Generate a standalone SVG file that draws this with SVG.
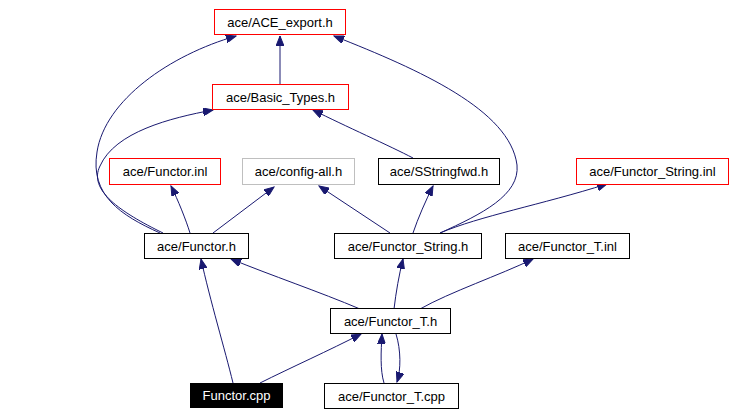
<svg xmlns="http://www.w3.org/2000/svg" width="735" height="415" viewBox="0 0 735 415">
<defs>
<marker id="ah" markerWidth="11" markerHeight="8" refX="10" refY="4" orient="auto" markerUnits="userSpaceOnUse">
<path d="M0,0 L10,4 L0,8 z" fill="#191970" stroke="#191970" stroke-width="1"/>
</marker>
<style>
.e{fill:none;stroke:#191970;stroke-width:1;marker-end:url(#ah)}
.n rect{fill:#fff;stroke:#000;stroke-width:1}
.r rect{stroke:#ff0000}
.g rect{stroke:#bfbfbf}
.n text{font-family:"Liberation Sans",Arial,sans-serif;font-size:13px;text-anchor:middle;fill:#000}
.b rect{fill:#000}
.b text{fill:#fff}
</style>
</defs>
<rect width="735" height="415" fill="#fff"/>
<g id="edges">
<path class="e" d="M280,84 L280,36"/>
<path class="e" d="M160,233 C120,215 90,195 97,152 C105,100 170,55 236,36"/>
<path class="e" d="M163,233 C120,212 88,190 100,166 C115,132 170,118 213,110"/>
<path class="e" d="M190,233 C186,220 178,200 171,186"/>
<path class="e" d="M213,233 L274,187"/>
<path class="e" d="M390,233 L319,186"/>
<path class="e" d="M413,233 C418,218 426,200 433,186"/>
<path class="e" d="M440,233 C482,214 520,195 517,165 C510,110 420,70 334,36"/>
<path class="e" d="M440,233 C480,216 540,205 607,184"/>
<path class="e" d="M413,158 C390,146 345,126 313,110"/>
<path class="e" d="M360,309 C320,292 270,275 231,259"/>
<path class="e" d="M394,309 C396,292 399,275 403,259"/>
<path class="e" d="M420,309 C450,292 500,275 533,259"/>
<path class="e" d="M233,383 C225,350 210,300 201,259"/>
<path class="e" d="M260,383 C290,368 330,350 361,334"/>
<path class="e" d="M384,383 C380,370 381,352 382,334"/>
<path class="e" d="M396,334 C401,350 401,370 397,382"/>
</g>
<g id="n_ace_export" class="n r"><rect x="214.5" y="9.5" width="131" height="25"/><text x="280" y="27">ace/ACE_export.h</text></g>
<g id="n_basic_types" class="n r"><rect x="212.5" y="84.5" width="136" height="25"/><text x="280.5" y="102">ace/Basic_Types.h</text></g>
<g id="n_functor_inl" class="n r"><rect x="109.5" y="158.5" width="111" height="26"/><text x="165" y="176">ace/Functor.inl</text></g>
<g id="n_config_all" class="n g"><rect x="242.5" y="158.5" width="112" height="26"/><text x="298.5" y="176">ace/config-all.h</text></g>
<g id="n_sstringfwd" class="n"><rect x="378.5" y="158.5" width="121" height="26"/><text x="439" y="176">ace/SStringfwd.h</text></g>
<g id="n_functor_string_inl" class="n r"><rect x="576.5" y="158.5" width="152" height="26"/><text x="652.5" y="176">ace/Functor_String.inl</text></g>
<g id="n_functor_h" class="n"><rect x="144.5" y="233.5" width="104" height="25"/><text x="196.5" y="251">ace/Functor.h</text></g>
<g id="n_functor_string_h" class="n"><rect x="334.5" y="233.5" width="147" height="25"/><text x="408" y="251">ace/Functor_String.h</text></g>
<g id="n_functor_t_inl" class="n"><rect x="505.5" y="233.5" width="124" height="25"/><text x="567.5" y="251">ace/Functor_T.inl</text></g>
<g id="n_functor_t_h" class="n"><rect x="330.5" y="308.5" width="120" height="25"/><text x="390.5" y="326">ace/Functor_T.h</text></g>
<g id="n_functor_cpp" class="n b"><rect x="190.5" y="383.5" width="92" height="24"/><text x="236.5" y="400">Functor.cpp</text></g>
<g id="n_functor_t_cpp" class="n"><rect x="324.5" y="383.5" width="134" height="25"/><text x="391.5" y="401">ace/Functor_T.cpp</text></g>
</svg>
